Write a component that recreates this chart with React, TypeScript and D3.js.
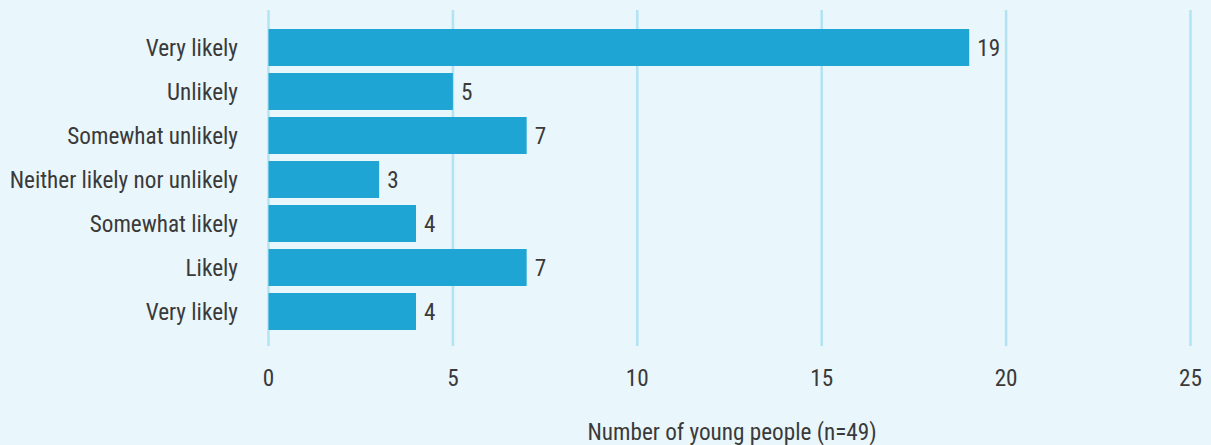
import React from "react";
import * as d3 from "d3";

const categories = [
  "Very likely",
  "Unlikely",
  "Somewhat unlikely",
  "Neither likely nor unlikely",
  "Somewhat likely",
  "Likely",
  "Very likely",
];
const values = [19, 5, 7, 3, 4, 7, 4];
const xTicks = [0, 5, 10, 15, 20, 25];
const axisTitle = "Number of young people (n=49)";

const W = 1211;
const H = 445;
const FONT = "'Liberation Sans Narrow', 'Roboto Condensed', 'DejaVu Sans Condensed', sans-serif";
const TEXT = "#3a3a3a";
const FS = 23.2;

export default function App() {
  const x = d3.scaleLinear().domain([0, 25]).range([268.5, 1190.5]);
  const ids = categories.map((_, i) => String(i));
  const y = d3.scaleBand<string>().domain(ids).range([25.5, 333.5]).paddingInner(0.16).paddingOuter(0.08);

  return (
    <svg width={W} height={H} style={{ position: "absolute", left: 0, top: 0, display: "block" }}>
      <rect x={0} y={0} width={W} height={H} fill="#e9f6fb" />
      {xTicks.map((t) => (
        <g key={t}>
          <line x1={x(t)} x2={x(t)} y1={10} y2={346} stroke="#b2e3f3" strokeWidth={2.5} />
          <text x={x(t)} y={386} textAnchor="middle" fontFamily={FONT} fontSize={FS} fill={TEXT}>
            {t}
          </text>
        </g>
      ))}
      {values.map((v, i) => (
        <g key={i}>
          <rect x={x(0)} y={y(String(i))} width={x(v) - x(0)} height={y.bandwidth()} fill="#1ea5d3" />
          <text
            x={x(v) + 8}
            y={(y(String(i)) as number) + y.bandwidth() / 2 + 8}
            fontFamily={FONT}
            fontSize={FS}
            fill={TEXT}
          >
            {v}
          </text>
          <text
            x={238}
            y={(y(String(i)) as number) + y.bandwidth() / 2 + 8}
            textAnchor="end"
            fontFamily={FONT}
            fontSize={FS}
            fill={TEXT}
          >
            {categories[i]}
          </text>
        </g>
      ))}
      <text x={732} y={440} textAnchor="middle" fontFamily={FONT} fontSize={FS} fill={TEXT}>
        {axisTitle}
      </text>
    </svg>
  );
}
